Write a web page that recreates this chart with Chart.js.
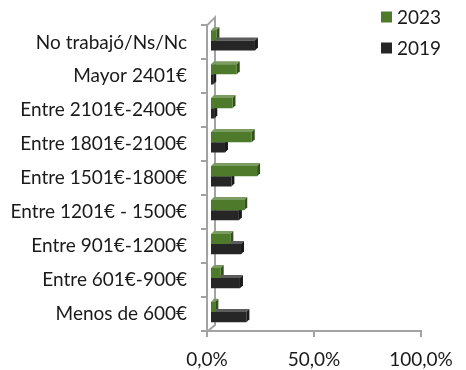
<!DOCTYPE html>
<html>
<head>
<meta charset="utf-8">
<script src="https://cdn.jsdelivr.net/npm/chart.js@4/dist/chart.umd.min.js"></script>
<style>
  html, body { margin: 0; padding: 0; background: #ffffff; }
  #wrap { width: 466px; height: 370px; }
</style>
</head>
<body>
<div id="wrap"><canvas id="c" width="466" height="370"></canvas></div>
<script>
// Income brackets, top to bottom
const categories = [
  "No trabajó/Ns/Nc",
  "Mayor 2401€",
  "Entre 2101€-2400€",
  "Entre 1801€-2100€",
  "Entre 1501€-1800€",
  "Entre 1201€ - 1500€",
  "Entre 901€-1200€",
  "Entre 601€-900€",
  "Menos de 600€"
];
// Share of respondents (%) per bracket
const values2023 = [3, 12.5, 10.5, 19.5, 22, 16, 9.5, 5, 2.5];
const values2019 = [21, 1.5, 2, 7, 10, 13.5, 14.5, 14, 17];
const seriesLabels = ["2023", "2019"];
const xTicks = [0, 50, 100];

const FONT = { family: "Lato, 'Open Sans', sans-serif", size: 19 };
const TEXT = "#1a1a1a";
const AXIS = "#a3a3a3";
const GREEN = "#4e7b2b";
const BLACK = "#262626";

function shade(hex, f) {
  const n = parseInt(hex.slice(1), 16);
  let r = (n >> 16) & 255, g = (n >> 8) & 255, b = n & 255;
  const adj = c => Math.max(0, Math.min(255, Math.round(f < 0 ? c * (1 + f) : c + (255 - c) * f)));
  return `rgb(${adj(r)},${adj(g)},${adj(b)})`;
}

// Bars sit a little inside the 3D box, so the whole series layer is nudged back
const SHIFT_X = 3, SHIFT_Y = -2;
// Depth faces (top and right side) drawn behind each bar's front face
const DEPTH = 3;
const bar3d = {
  id: "bar3d",
  beforeDatasetsDraw(chart) {
    const ctx = chart.ctx;
    ctx.save();
    ctx.translate(SHIFT_X, SHIFT_Y);
    chart.data.datasets.forEach((ds, i) => {
      const meta = chart.getDatasetMeta(i);
      meta.data.forEach(el => {
        const { x, y, base, height } = el.getProps(["x", "y", "base", "height"], true);
        const t = y - height / 2, b = y + height / 2;
        ctx.fillStyle = shade(ds.backgroundColor, 0.25);
        ctx.beginPath();
        ctx.moveTo(base, t);
        ctx.lineTo(base + DEPTH, t - DEPTH);
        ctx.lineTo(x + DEPTH, t - DEPTH);
        ctx.lineTo(x, t);
        ctx.closePath();
        ctx.fill();
        ctx.fillStyle = shade(ds.backgroundColor, -0.35);
        ctx.beginPath();
        ctx.moveTo(x, t);
        ctx.lineTo(x + DEPTH, t - DEPTH);
        ctx.lineTo(x + DEPTH, b - DEPTH);
        ctx.lineTo(x, b);
        ctx.closePath();
        ctx.fill();
      });
    });
    // keep the translation for the front faces Chart.js draws next
  },
  afterDatasetsDraw(chart) {
    chart.ctx.restore();
  }
};

// Back wall edges of the 3D plot box
const WALL = 8;
const walls = {
  id: "walls",
  beforeDatasetsDraw(chart) {
    const { left, top, bottom } = chart.chartArea;
    const ctx = chart.ctx;
    ctx.save();
    ctx.strokeStyle = AXIS;
    ctx.lineWidth = 2;
    ctx.beginPath();
    ctx.moveTo(left, top);
    ctx.lineTo(left + WALL, top - WALL);
    ctx.lineTo(left + WALL, bottom - WALL + 2);
    ctx.lineTo(left + 1, bottom);
    ctx.stroke();
    ctx.restore();
  }
};

// Legend stacked in the top-right corner
const cornerLegend = {
  id: "cornerLegend",
  afterDraw(chart) {
    const ctx = chart.ctx;
    ctx.save();
    ctx.font = `${FONT.size}px ${FONT.family}`;
    ctx.textBaseline = "middle";
    chart.data.datasets.forEach((ds, i) => {
      const cy = 17 + i * 31;
      ctx.fillStyle = ds.backgroundColor;
      ctx.fillRect(381, cy - 5.5, 11, 11);
      ctx.fillStyle = TEXT;
      ctx.fillText(ds.label, 397, cy + 1);
    });
    ctx.restore();
  }
};

new Chart(document.getElementById("c"), {
  type: "bar",
  data: {
    labels: categories,
    datasets: [
      { label: seriesLabels[0], data: values2023, backgroundColor: GREEN },
      { label: seriesLabels[1], data: values2019, backgroundColor: BLACK }
    ]
  },
  options: {
    indexAxis: "y",
    responsive: false,
    animation: false,
    layout: { padding: { top: 24, right: 45, left: 0, bottom: 0 } },
    datasets: { bar: { categoryPercentage: 0.6, barPercentage: 1.0 } },
    plugins: { legend: { display: false }, tooltip: { enabled: false } },
    scales: {
      x: {
        min: 0,
        max: 100,
        afterBuildTicks: s => { s.ticks = xTicks.map(v => ({ value: v })); },
        afterFit: s => { s.height = 39; },
        ticks: {
          font: FONT,
          color: TEXT,
          padding: 11,
          maxRotation: 0,
          callback: v => v.toFixed(1).replace(".", ",") + "%"
        },
        grid: { drawOnChartArea: false, tickLength: 6, color: AXIS, lineWidth: 2 },
        border: { color: AXIS, width: 2 }
      },
      y: {
        afterFit: s => { s.width = 207; },
        ticks: { font: FONT, color: TEXT, padding: 14 },
        grid: { offset: true, drawOnChartArea: false, tickLength: 6, color: AXIS, lineWidth: 2 },
        border: { color: AXIS, width: 2 }
      }
    }
  },
  plugins: [walls, bar3d, cornerLegend]
});
</script>
</body>
</html>
